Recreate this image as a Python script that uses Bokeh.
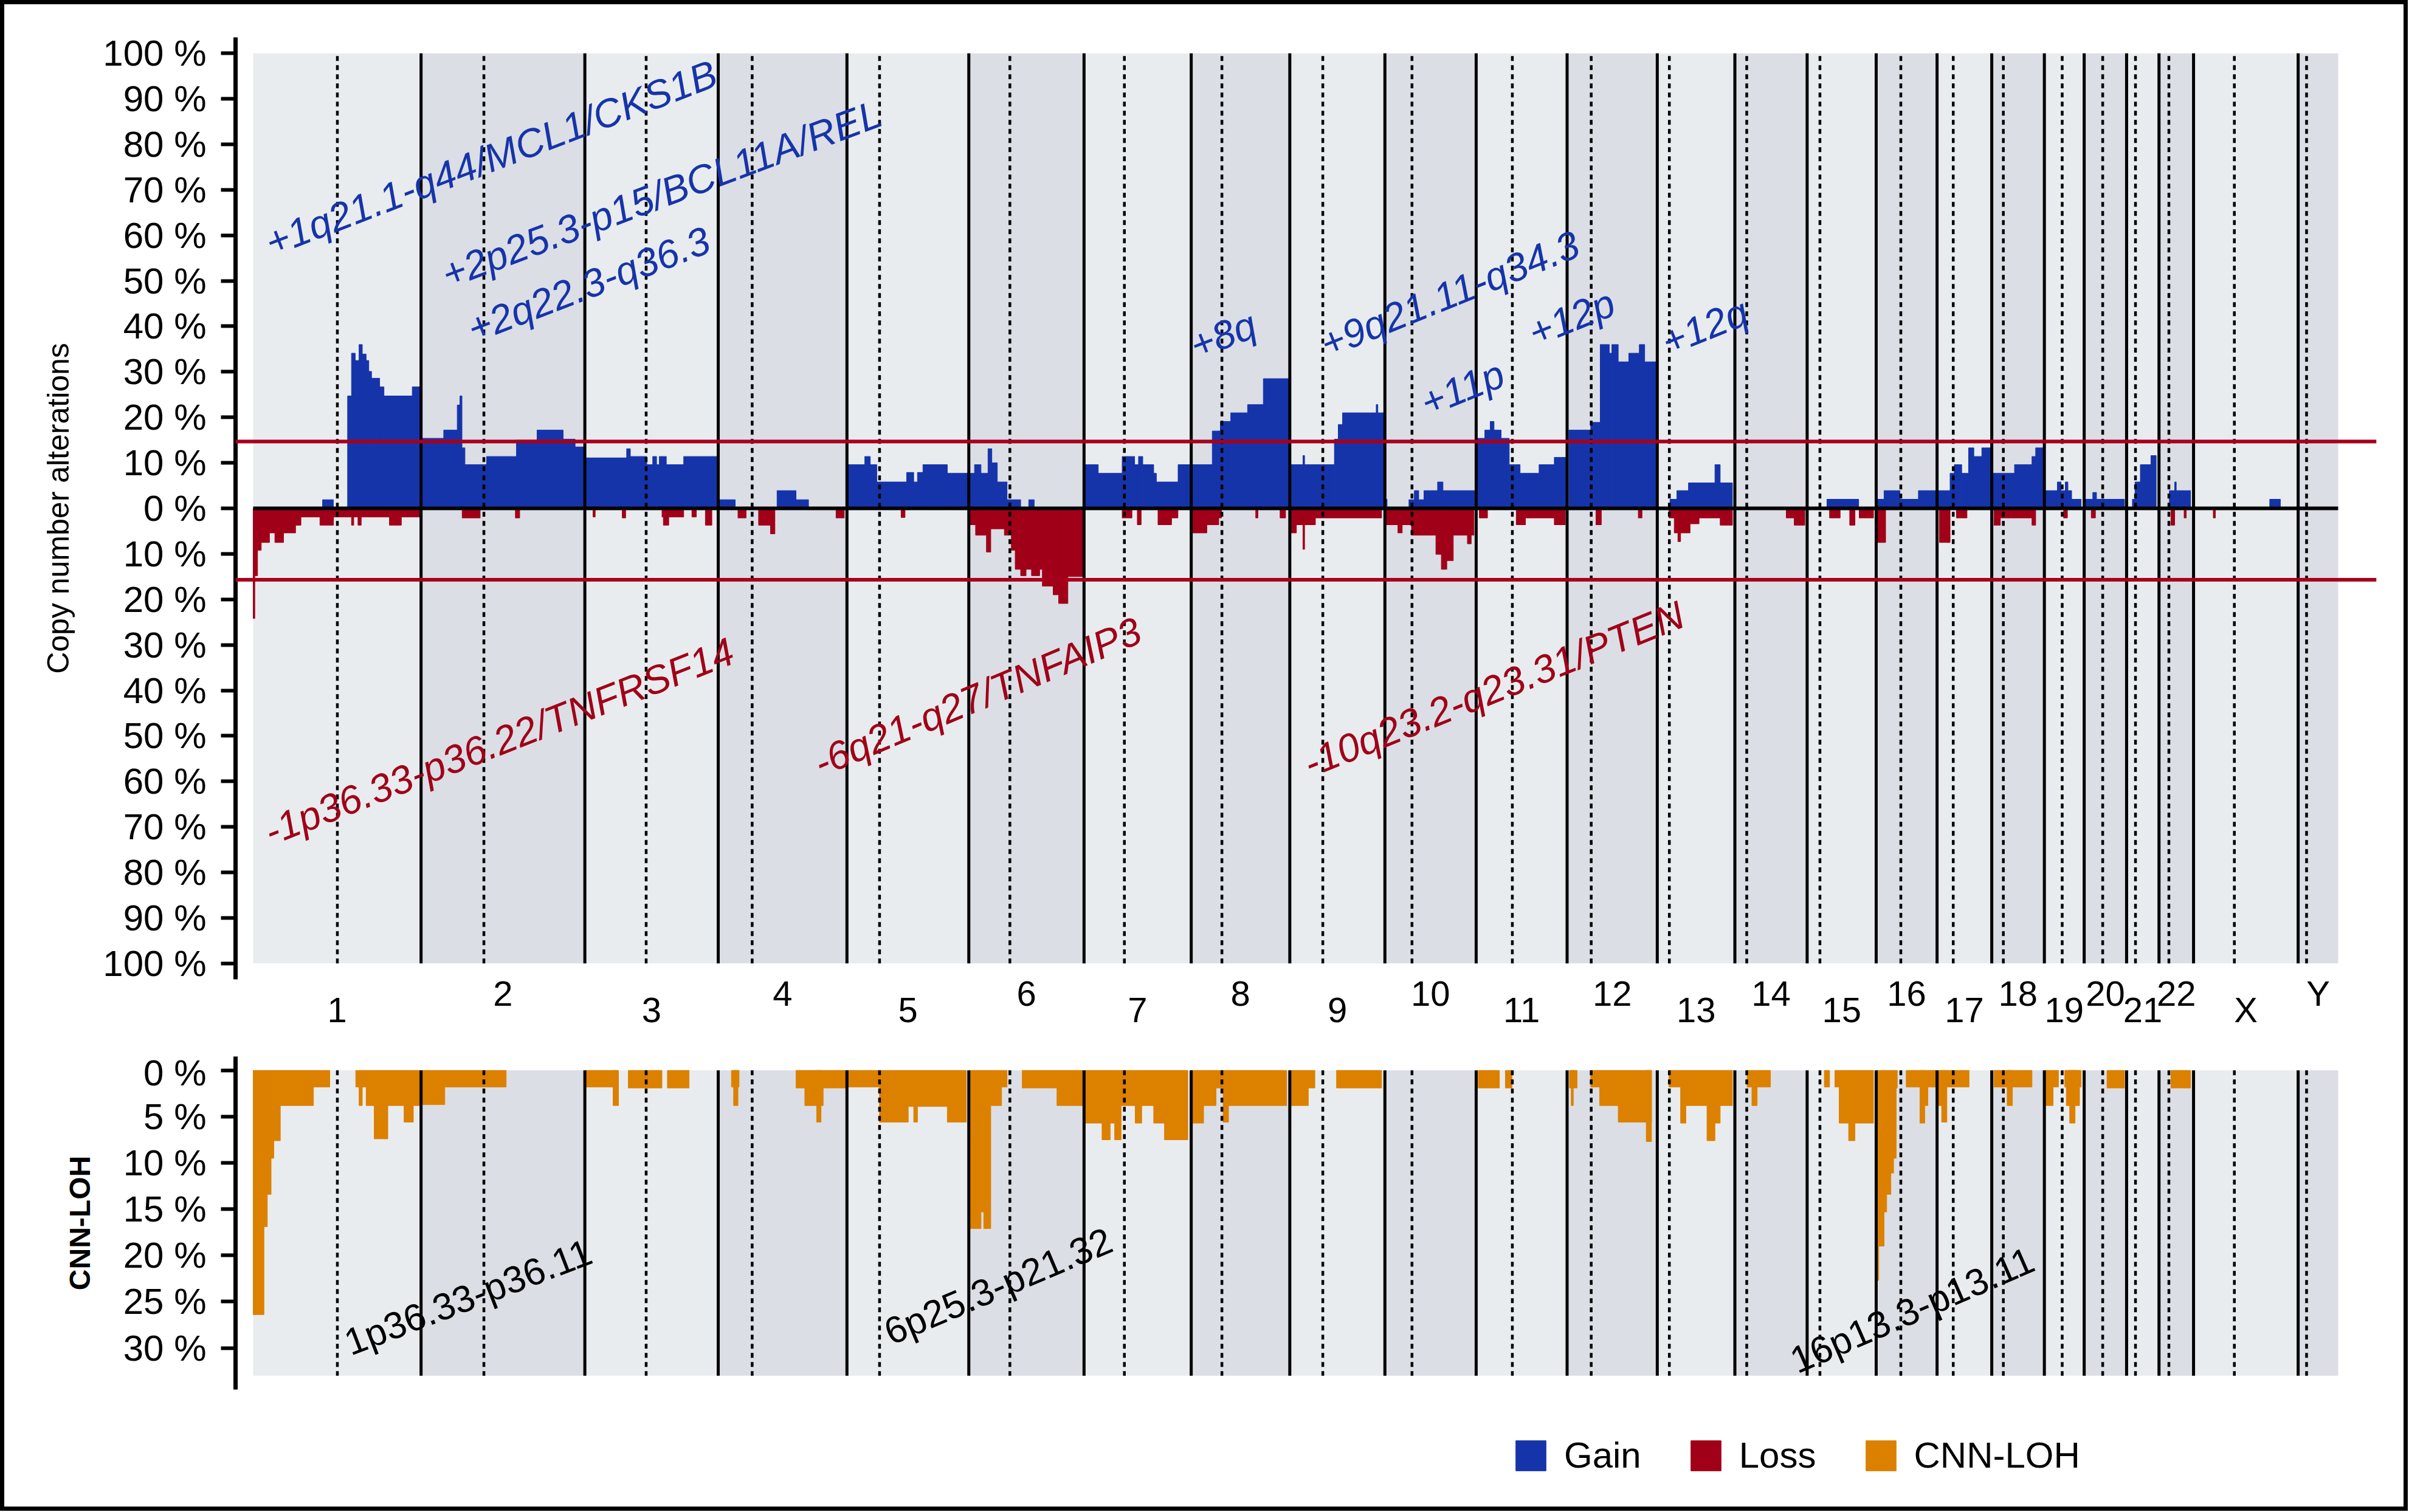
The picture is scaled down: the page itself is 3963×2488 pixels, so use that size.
import math
from bokeh.plotting import figure
from bokeh.models import Range1d, LinearAxis, FixedTicker, Legend, LegendItem, Span
from bokeh.layouts import column
from bokeh.embed import file_html
from bokeh.resources import INLINE
from bokeh.core.properties import value

# ---------------- data ----------------
CHROMS = ["1", "2", "3", "4", "5", "6", "7", "8", "9", "10", "11", "12",
          "13", "14", "15", "16", "17", "18", "19", "20", "21", "22", "X", "Y"]
CHROM_LEN = [249.25, 243.2, 198.0, 191.15, 180.9, 171.1, 159.1, 146.4, 141.2, 135.5,
             135.0, 133.9, 115.2, 107.3, 102.5, 90.4, 81.2, 78.1, 59.1, 63.0, 48.1,
             51.3, 155.3, 59.4]
CENTROMERE = [125.0, 93.3, 91.0, 50.4, 48.4, 61.0, 59.9, 45.6, 49.0, 40.2, 53.7, 35.8,
              17.9, 17.6, 19.0, 36.6, 24.0, 17.2, 26.5, 27.5, 13.2, 14.7, 60.6, 12.5]

# segments: (start Mb genome-cumulative, end Mb, percent of patients)
GAIN = [
    (103.0, 119.0, 1.9),
    (140.2, 146.0, 24.7), (146.0, 151.5, 34.1), (151.5, 157.2, 32.5), (157.2, 162.0, 36.0),
    (162.0, 167.7, 33.9), (167.7, 171.7, 32.5), (171.7, 175.7, 30.1), (175.7, 187.8, 28.6),
    (187.8, 194.2, 26.7), (194.2, 236.2, 24.7), (236.2, 249.2, 26.7),
    (249.3, 282.9, 15.4), (282.9, 303.0, 17.2), (303.0, 307.0, 22.7), (307.0, 310.0, 24.7),
    (310.0, 314.4, 13.3), (314.4, 346.6, 9.6), (346.6, 390.9, 11.4), (390.9, 421.5, 15.0),
    (421.5, 460.2, 17.2), (460.2, 478.0, 15.2), (478.0, 492.4, 13.5),
    (492.5, 554.5, 11.1), (554.5, 560.0, 13.1), (560.0, 584.4, 11.4), (584.4, 593.2, 9.6),
    (593.2, 598.9, 11.4), (598.9, 603.0, 9.6), (603.0, 613.4, 11.4), (613.4, 639.2, 9.6),
    (639.2, 690.4, 11.4),
    (690.5, 715.7, 1.9), (777.8, 806.0, 3.9), (806.0, 824.5, 1.9),
    (881.6, 908.1, 9.6), (908.1, 916.2, 11.4), (916.2, 925.9, 9.6), (925.9, 970.2, 5.8),
    (970.2, 980.7, 7.9), (980.7, 986.3, 5.8), (986.3, 994.4, 7.9), (994.4, 1030.6, 9.6),
    (1030.6, 1062.5, 7.7),
    (1062.5, 1071.0, 7.7), (1071.0, 1080.6, 9.6), (1080.6, 1091.0, 7.7), (1091.0, 1096.7, 13.1),
    (1096.7, 1104.8, 10.0), (1104.8, 1119.3, 5.8), (1119.3, 1139.5, 1.9), (1151.5, 1159.6, 1.9),
    (1233.6, 1254.7, 9.6), (1254.7, 1290.2, 7.7), (1290.2, 1308.7, 11.4), (1308.7, 1314.5, 9.6),
    (1314.5, 1320.8, 11.4), (1320.8, 1337.0, 9.6), (1337.0, 1341.0, 7.7), (1341.0, 1373.2, 5.8),
    (1373.2, 1392.7, 9.6),
    (1392.7, 1424.0, 9.6), (1424.0, 1436.0, 17.0), (1436.0, 1451.4, 19.1), (1451.4, 1476.4, 21.0),
    (1476.4, 1499.8, 22.8), (1499.8, 1539.1, 28.5),
    (1539.1, 1558.6, 9.6), (1558.6, 1561.0, 11.6), (1561.0, 1605.3, 9.6), (1605.3, 1611.0, 15.2),
    (1611.0, 1617.4, 18.4), (1617.4, 1667.4, 21.0), (1667.4, 1669.8, 22.8), (1669.8, 1680.3, 21.0),
    (1680.3, 1683.5, 2.0), (1716.0, 1724.0, 1.9), (1724.0, 1730.5, 3.9), (1730.5, 1738.3, 1.9),
    (1738.3, 1758.5, 3.9), (1758.5, 1766.5, 5.8), (1766.5, 1815.8, 3.9),
    (1818.0, 1828.6, 15.4), (1828.6, 1836.7, 17.2), (1836.7, 1842.3, 19.1), (1842.3, 1852.8, 17.2),
    (1852.8, 1864.9, 15.4), (1864.9, 1881.0, 9.6), (1881.0, 1909.2, 7.7), (1909.2, 1931.8, 9.6),
    (1931.8, 1950.8, 11.2),
    (1953.5, 1985.9, 17.2), (1985.9, 2000.0, 18.9), (2000.0, 2013.4, 36.0), (2013.4, 2017.3, 34.1),
    (2017.3, 2026.7, 36.0), (2026.7, 2042.4, 32.2), (2042.4, 2058.0, 34.1), (2058.0, 2066.0, 36.0),
    (2066.0, 2084.7, 32.2),
    (2103.6, 2113.8, 2.0), (2113.8, 2131.0, 3.9), (2131.0, 2170.3, 5.6), (2170.3, 2178.1, 9.6),
    (2178.1, 2196.2, 5.6),
    (2336.6, 2383.7, 2.0),
    (2412.0, 2421.4, 2.0), (2421.4, 2444.9, 3.9), (2444.9, 2472.4, 2.0), (2472.4, 2500.1, 3.9),
    (2502.2, 2519.4, 3.9), (2519.4, 2525.7, 7.7), (2525.7, 2536.7, 9.6), (2536.7, 2546.9, 7.7),
    (2546.9, 2554.7, 13.3), (2554.7, 2566.5, 11.4), (2566.5, 2581.3, 13.3),
    (2582.2, 2615.1, 7.7), (2615.1, 2641.0, 9.6), (2641.0, 2646.5, 11.4), (2646.5, 2659.4, 13.3),
    (2660.6, 2678.7, 3.9), (2678.7, 2684.2, 5.8), (2684.2, 2690.5, 3.9), (2690.5, 2694.4, 5.8),
    (2694.4, 2699.9, 3.9), (2699.9, 2714.0, 2.0),
    (2719.5, 2731.3, 2.0), (2731.3, 2736.8, 3.5), (2736.8, 2778.3, 2.0),
    (2790.1, 2794.0, 2.0), (2794.0, 2801.9, 5.8), (2801.9, 2817.6, 9.6), (2817.6, 2825.4, 11.6),
    (2845.0, 2852.9, 3.9), (2852.9, 2855.2, 5.8), (2855.2, 2876.4, 3.9),
    (2994.0, 3009.8, 2.0),
]

LOSS = [
    (0.0, 2.4, 24.2), (2.4, 6.5, 14.8), (6.5, 12.0, 9.2), (12.0, 24.2, 7.5), (24.2, 32.2, 5.4),
    (32.2, 45.1, 7.5), (45.1, 62.9, 5.4), (62.9, 70.9, 3.7), (70.9, 99.1, 1.9), (99.1, 119.3, 3.7),
    (119.3, 146.0, 1.9), (146.0, 149.3, 3.7), (149.3, 155.6, 1.9), (155.6, 160.4, 3.7),
    (160.4, 202.3, 1.9), (202.3, 220.0, 3.7), (220.0, 249.2, 1.9),
    (310.3, 337.0, 2.1), (389.3, 395.7, 2.1),
    (504.6, 507.8, 1.9), (548.0, 553.0, 2.1), (607.0, 639.2, 1.9), (609.0, 617.0, 3.7),
    (651.4, 658.0, 1.9), (671.4, 681.0, 3.7),
    (719.8, 731.8, 2.1), (750.4, 768.1, 3.7), (768.1, 774.6, 5.6), (865.4, 877.5, 2.1),
    (962.0, 967.8, 2.0),
    (1062.5, 1072.6, 3.6), (1072.6, 1088.7, 5.9), (1088.7, 1095.1, 9.6), (1095.1, 1115.3, 4.5),
    (1115.3, 1125.7, 5.9), (1125.7, 1131.4, 9.2), (1131.4, 1139.5, 13.4), (1139.5, 1147.5, 14.8),
    (1147.5, 1155.6, 13.4), (1155.6, 1167.7, 14.8), (1167.7, 1171.7, 13.4), (1171.7, 1187.8, 17.1),
    (1187.8, 1195.9, 19.0), (1195.9, 1209.6, 20.9), (1209.6, 1233.6, 15.0),
    (1290.2, 1304.7, 2.1), (1312.7, 1318.4, 3.6), (1343.4, 1363.5, 3.6), (1363.5, 1373.0, 2.1),
    (1393.3, 1415.9, 5.4), (1415.9, 1433.6, 3.6), (1433.6, 1437.6, 2.1), (1488.5, 1491.7, 2.1),
    (1524.7, 1532.8, 2.1),
    (1539.1, 1548.9, 5.4), (1548.9, 1558.6, 3.6), (1558.6, 1561.0, 9.0), (1561.0, 1577.1, 3.6),
    (1577.1, 1675.4, 2.1),
    (1682.0, 1699.6, 3.6), (1699.6, 1706.0, 5.4), (1706.0, 1719.8, 3.6), (1719.8, 1756.0, 5.9),
    (1756.0, 1764.1, 10.1), (1764.1, 1772.2, 13.4), (1772.2, 1781.8, 11.5), (1781.8, 1802.8, 5.9),
    (1802.8, 1808.4, 7.8), (1808.4, 1812.4, 5.9),
    (1820.5, 1832.6, 2.1), (1875.3, 1889.0, 3.6), (1889.0, 1931.8, 2.1), (1931.8, 1948.0, 3.6),
    (1993.7, 2001.6, 3.6), (2056.5, 2062.0, 2.1),
    (2102.0, 2109.9, 2.1), (2109.9, 2115.3, 5.4), (2115.3, 2119.3, 7.3), (2119.3, 2133.4, 5.4),
    (2133.4, 2146.7, 3.4), (2146.7, 2178.1, 2.1), (2178.1, 2196.2, 3.7),
    (2276.2, 2288.0, 2.1), (2288.0, 2303.7, 3.7),
    (2340.5, 2356.2, 2.1), (2370.4, 2378.2, 3.7), (2384.5, 2405.7, 2.1),
    (2412.0, 2423.7, 7.5),
    (2503.7, 2519.4, 7.5), (2528.8, 2544.5, 2.1),
    (2584.6, 2594.0, 3.7), (2594.0, 2641.0, 2.1), (2641.0, 2646.5, 3.7),
    (2688.0, 2693.6, 2.1), (2729.0, 2735.2, 2.1),
    (2847.4, 2852.9, 3.7), (2866.9, 2870.0, 2.1),
    (2910.2, 2913.3, 2.1),
]

CNN_LOH = [
    (0.0, 16.0, 26.4), (16.0, 21.0, 16.9), (21.0, 26.6, 13.4), (26.6, 30.6, 9.5), (30.6, 40.3, 7.6),
    (40.3, 89.5, 3.8), (89.5, 113.7, 1.8), (152.3, 157.2, 1.8), (157.2, 162.0, 3.8),
    (162.0, 167.7, 1.8), (167.7, 179.7, 3.8), (179.7, 199.9, 7.4), (199.9, 224.0, 3.8),
    (224.0, 237.8, 5.6), (237.8, 249.2, 3.8),
    (249.3, 284.5, 3.7), (284.5, 375.6, 1.8),
    (492.5, 540.0, 1.8), (534.4, 542.4, 3.8), (556.9, 606.9, 1.9), (615.0, 647.2, 1.9),
    (710.1, 721.4, 1.8), (713.3, 719.8, 3.8), (806.0, 819.0, 1.9), (819.0, 846.3, 3.8),
    (836.6, 843.1, 5.6), (846.3, 881.6, 1.9),
    (881.6, 929.9, 1.8), (929.9, 972.6, 5.6), (972.6, 980.7, 3.9), (980.7, 986.3, 5.6),
    (986.3, 1030.6, 3.9), (1030.6, 1058.8, 5.6),
    (1062.9, 1080.6, 17.1), (1080.6, 1084.7, 15.3), (1084.7, 1095.1, 17.1), (1095.1, 1111.2, 3.8),
    (1111.2, 1119.3, 1.8), (1141.9, 1193.4, 1.9), (1193.4, 1232.1, 3.8),
    (1234.6, 1260.3, 5.7), (1260.3, 1272.4, 7.5), (1272.4, 1279.0, 5.7), (1279.0, 1288.6, 7.5),
    (1288.6, 1309.5, 3.8), (1309.5, 1319.2, 5.7), (1319.2, 1337.0, 3.8), (1337.0, 1353.0, 5.7),
    (1353.0, 1387.7, 7.5),
    (1391.7, 1411.1, 5.7), (1411.1, 1429.6, 3.8), (1429.6, 1440.1, 1.9), (1440.1, 1448.1, 5.6),
    (1448.1, 1534.4, 3.8),
    (1538.4, 1566.6, 3.8), (1566.6, 1576.3, 1.9), (1608.5, 1675.4, 1.9),
    (1818.9, 1850.3, 1.9), (1859.2, 1868.9, 1.9),
    (1954.3, 1965.6, 1.9), (1957.0, 1960.0, 3.8), (1985.9, 1999.2, 1.8), (1999.2, 2026.7, 3.8),
    (2026.7, 2076.1, 5.6), (2068.3, 2076.1, 7.7),
    (2102.0, 2119.3, 1.8), (2119.3, 2127.1, 5.7), (2127.1, 2158.5, 3.8), (2158.5, 2170.3, 7.6),
    (2170.3, 2178.1, 5.7), (2178.1, 2196.2, 3.8),
    (2218.1, 2225.2, 1.8), (2225.2, 2233.0, 3.8), (2233.0, 2252.7, 1.8),
    (2332.7, 2340.5, 1.8), (2348.4, 2354.7, 1.8), (2354.7, 2368.8, 5.7), (2368.8, 2378.2, 7.6),
    (2378.2, 2405.7, 5.7),
    (2409.7, 2413.5, 22.7), (2413.5, 2421.4, 19.0), (2421.4, 2425.3, 15.3), (2425.3, 2431.5, 13.4),
    (2431.5, 2435.5, 11.1), (2435.5, 2439.4, 9.5), (2439.4, 2441.0, 1.9), (2454.3, 2478.6, 1.8),
    (2474.7, 2481.8, 5.7), (2478.6, 2486.5, 3.8), (2486.5, 2500.1, 1.8),
    (2502.2, 2511.6, 3.8), (2506.9, 2514.7, 5.6), (2514.7, 2547.6, 1.8),
    (2584.6, 2641.0, 1.8), (2604.2, 2612.0, 3.8),
    (2660.6, 2672.4, 3.8), (2672.4, 2680.3, 1.8), (2689.7, 2714.0, 1.8), (2692.0, 2711.6, 3.8),
    (2697.0, 2705.0, 5.7),
    (2752.4, 2778.3, 1.9),
    (2847.4, 2876.4, 1.9),
]

GAIN_THRESHOLD = 14.7
LOSS_THRESHOLD = -15.7

# annotations: (text, genome Mb, percent, angle in degrees)
GAIN_NOTES = [
    ("+1q21.1-q44/MCL1/CKS1B", 353.3, 77.0, 21),
    ("+2p25.3-p15/BCL11A/REL", 606.5, 69.1, 20.6),
    ("+2q22.3-q36.3", 498.2, 49.2, 21),
    ("+8q", 1440.0, 38.1, 21),
    ("+9q21.11-q34.3", 1776.6, 47.1, 22),
    ("+11p", 1795.6, 26.4, 22),
    ("+12p", 1957.6, 41.9, 22),
    ("+12q", 2155.2, 39.9, 22),
]
LOSS_NOTES = [
    ("-1p36.33-p36.22/TNFRSF14", 365.1, -51.2, 21.5),
    ("-6q21-q27/TNFAIP3", 1075.4, -41.4, 22.8),
    ("-10q23.2-q23.31/PTEN", 1842.1, -39.7, 22),
]
LOH_NOTES = [
    ("1p36.33-p36.11", 319.0, 24.5, 21),
    ("6p25.3-p21.32", 1106.0, 23.3, 23),
    ("16p13.3-p13.11", 2463.0, 25.9, 23.5),
]

CNA_TICKS = list(range(-100, 101, 10))
LOH_TICKS = list(range(0, 31, 5))
LEGEND_NAMES = ["Gain", "Loss", "CNN-LOH"]

# ---------------- styling ----------------
FONT = "Liberation Sans"
BLUE = "#1634AA"
RED = "#A00018"
ORANGE = "#DC8000"
LINE_RED = "#A8001C"
BAND_LIGHT = "#E9ECEE"
BAND_DARK = "#DBDEE5"
W = 3947
TOTAL_H = 2472
X_LO, X_HI = -26.17, 3152.5

starts, acc = [], 0.0
for L in CHROM_LEN:
    starts.append(acc)
    acc += L
ends = [s + L for s, L in zip(starts, CHROM_LEN)]
mids = [round((s + e) / 2, 3) for s, e in zip(starts, ends)]
cents = [s + c for s, c in zip(starts, CENTROMERE)]
band_colors = [BAND_LIGHT if i % 2 == 0 else BAND_DARK for i in range(len(CHROMS))]

x_range = Range1d(X_LO, X_HI)


def make_fig(height, y_range, top, bottom):
    p = figure(width=W, height=height, x_range=x_range, y_range=y_range,
               output_backend="svg", toolbar_location=None, x_axis_location=None,
               min_border_left=380, min_border_right=45, min_border_top=top,
               min_border_bottom=bottom)
    p.grid.visible = False
    p.outline_line_color = None
    p.background_fill_color = "white"
    p.border_fill_color = "white"
    return p


def style_yaxis(ax, ticks, label, bold=False, label_size="50px"):
    ax.ticker = FixedTicker(ticks=ticks)
    ax.major_label_overrides = {t: f"{abs(t)} %" for t in ticks}
    ax.axis_line_width = 7
    ax.axis_line_color = "black"
    ax.major_tick_line_width = 6
    ax.major_tick_out = 24
    ax.major_tick_in = 0
    ax.minor_tick_line_color = None
    ax.major_label_text_font = FONT
    ax.major_label_text_font_size = "60px"
    ax.major_label_text_color = "black"
    ax.major_label_standoff = 24
    ax.axis_label = label
    ax.axis_label_text_font = FONT
    ax.axis_label_text_font_size = label_size
    ax.axis_label_text_font_style = "bold" if bold else "normal"
    ax.axis_label_text_color = "black"
    ax.axis_label_standoff = 42


def draw_frame(p, y0, y1):
    n = len(CHROMS)
    p.quad(left=starts, right=ends, bottom=[y0] * n, top=[y1] * n,
           fill_color=band_colors, line_color=None)


def draw_bars(p, segs, sign, color):
    p.quad(left=[s[0] for s in segs], right=[s[1] for s in segs],
           bottom=[0] * len(segs), top=[sign * s[2] for s in segs],
           fill_color=color, line_color=color, line_width=1)


def draw_chrom_lines(p, y0, y1):
    b = starts[1:]
    p.segment(x0=b, y0=[y0] * len(b), x1=b, y1=[y1] * len(b),
              line_color="black", line_width=5)
    p.segment(x0=cents, y0=[y0] * len(cents), x1=cents, y1=[y1] * len(cents),
              line_color="black", line_width=4.5, line_dash="8 7")


def draw_notes(p, notes, color, italic, size):
    p.text(x=[n[1] for n in notes], y=[n[2] for n in notes], text=[n[0] for n in notes],
           angle=[math.radians(n[3]) for n in notes], text_align="center",
           text_baseline="middle", text_font=value(FONT),
           text_font_style="italic" if italic else "normal",
           text_font_size=value(size), text_color=color)


# ---------------- top panel: copy number alterations ----------------
P1_H = 1724
p1 = make_fig(P1_H, Range1d(-103.5, 103.5), 54, 120)
draw_frame(p1, -100, 100)
draw_bars(p1, GAIN, 1, BLUE)
draw_bars(p1, LOSS, -1, RED)
draw_chrom_lines(p1, -100, 100)
p1.segment(x0=[0], y0=[0], x1=[ends[-1]], y1=[0], line_color="black", line_width=6)
p1.add_layout(Span(location=GAIN_THRESHOLD, dimension="width", line_color=LINE_RED, line_width=6))
p1.add_layout(Span(location=LOSS_THRESHOLD, dimension="width", line_color=LINE_RED, line_width=6))
draw_notes(p1, GAIN_NOTES, BLUE, True, "65px")
draw_notes(p1, LOSS_NOTES, RED, True, "65px")
style_yaxis(p1.yaxis[0], CNA_TICKS, "Copy number alterations")

upper = [i for i in range(len(CHROMS)) if i % 2 == 1]
lower = [i for i in range(len(CHROMS)) if i % 2 == 0]
for idx, standoff in ((upper, -16), (lower, -47)):
    ax = LinearAxis(ticker=FixedTicker(ticks=[mids[i] for i in idx]),
                    major_label_overrides={mids[i]: CHROMS[i] for i in idx})
    ax.axis_line_color = None
    ax.major_tick_line_color = None
    ax.minor_tick_line_color = None
    ax.major_label_text_font = FONT
    ax.major_label_text_font_size = "58px"
    ax.major_label_text_color = "black"
    ax.major_label_standoff = standoff
    p1.add_layout(ax, "below")

# ---------------- bottom panel: CNN-LOH ----------------
P2_H = 575
p2 = make_fig(P2_H, Range1d(34.5, -1.5), 7, P2_H - 7 - 548)
draw_frame(p2, 0, 33)
p2.quad(left=[s[0] for s in CNN_LOH], right=[s[1] for s in CNN_LOH],
        top=[0] * len(CNN_LOH), bottom=[s[2] for s in CNN_LOH],
        fill_color=ORANGE, line_color=ORANGE, line_width=1)
draw_chrom_lines(p2, 0, 33)
draw_notes(p2, LOH_NOTES, "black", False, "62px")
style_yaxis(p2.yaxis[0], LOH_TICKS, "CNN-LOH", bold=True, label_size="48px")

# ---------------- legend strip ----------------
P3_H = TOTAL_H - P1_H - P2_H
p3 = figure(width=W, height=P3_H, x_range=Range1d(0, 1), y_range=Range1d(0, 1),
            output_backend="svg", toolbar_location=None, x_axis_location=None,
            y_axis_location=None, min_border=0, min_border_left=0, min_border_right=0,
            min_border_top=0, min_border_bottom=0)
p3.grid.visible = False
p3.outline_line_color = None
p3.background_fill_color = "white"
p3.border_fill_color = "white"
items = []
for name, col in zip(LEGEND_NAMES, (BLUE, RED, ORANGE)):
    r = p3.quad(left=[-10], right=[-9], bottom=[-10], top=[-9], fill_color=col, line_color=col)
    items.append(LegendItem(label=name, renderers=[r]))
legend = Legend(items=items, orientation="horizontal", location=(2100, 50),
                glyph_width=62, glyph_height=62, label_standoff=24, spacing=75,
                padding=0, margin=0, border_line_color=None, background_fill_alpha=0,
                label_text_font=FONT, label_text_font_size="60px", label_height=62,
                label_text_color="black")
p3.add_layout(legend)

layout = column(p1, p2, p3, styles={"border": "7px solid black"})

with open("out.html", "w") as f:
    f.write(file_html(layout, INLINE))
